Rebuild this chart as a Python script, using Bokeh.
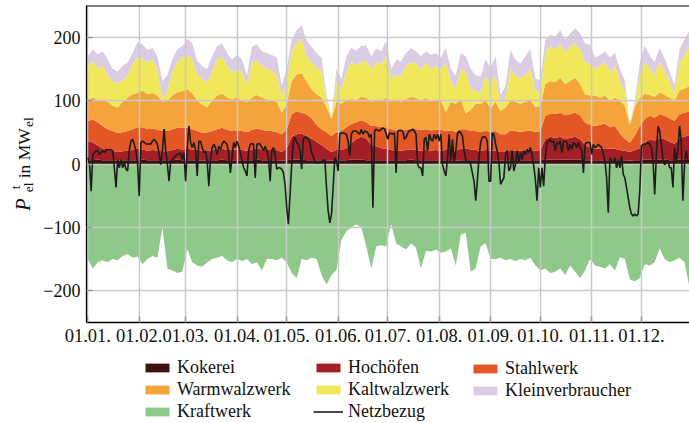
from math import pi

import numpy as np
import pandas as pd
from bokeh.core.properties import value
from bokeh.embed import file_html
from bokeh.layouts import column, row
from bokeh.models import (ColumnDataSource, FixedTicker, Legend, LegendItem,
                          Range1d, Span)
from bokeh.plotting import figure
from bokeh.resources import INLINE

# ---------------------------------------------------------------------------
# Electrical load per plant section (MW_el), sampled every third day
# ---------------------------------------------------------------------------
kokerei = [6, 6, 7, 6, 6, 6, 5, 6, 6, 6, 6, 7, 6, 6, 6, 6, 6, 6, 7, 6,
           6, 6, 6, 5, 6, 6, 6, 7, 6, 6, 6, 6, 6, 6, 7, 6, 6, 6, 6, 5,
           6, 7, 7, 7, 6, 6, 6, 6, 6, 5, 6, 6, 6, 7, 7, 7, 6, 6, 6, 6,
           6, 6, 6, 6, 6, 7, 6, 6, 6, 6, 6, 6, 6, 6, 5, 6, 6, 6, 6, 6,
           6, 6, 6, 5, 5, 6, 6, 6, 6, 6, 6, 6, 7, 7, 7, 7, 7, 7, 7, 7,
           6, 6, 6, 6, 6, 6, 6, 6, 6, 5, 6, 6, 7, 7, 7, 7, 7, 6, 6, 7,
           7, 7]
hochoefen = [30, 28, 22, 18, 16, 15, 14, 14, 15, 16, 18, 16, 15, 16, 15, 14, 14, 16, 17, 17,
             18, 17, 16, 16, 15, 16, 17, 17, 16, 16, 17, 16, 15, 17, 18, 17, 16, 16, 16, 14,
             19, 36, 40, 41, 38, 34, 29, 24, 18, 14, 16, 16, 19, 26, 32, 36, 34, 24, 22, 19,
             18, 16, 15, 15, 16, 16, 16, 15, 16, 15, 16, 15, 16, 16, 16, 18, 19, 17, 16, 15,
             16, 15, 15, 14, 14, 16, 15, 15, 15, 16, 15, 16, 32, 36, 34, 36, 32, 34, 36, 32,
             24, 20, 18, 18, 19, 18, 18, 16, 15, 14, 16, 19, 26, 32, 30, 34, 32, 29, 26, 34,
             36, 39]
stahlwerk = [32, 36, 37, 36, 33, 31, 30, 30, 31, 33, 34, 35, 34, 34, 33, 32, 32, 33, 33, 34,
             33, 32, 30, 28, 29, 30, 32, 33, 32, 30, 29, 30, 29, 31, 31, 31, 30, 30, 28, 28,
             30, 36, 36, 33, 34, 32, 27, 25, 26, 25, 28, 30, 33, 30, 27, 26, 26, 30, 32, 33,
             34, 33, 32, 31, 32, 33, 33, 33, 33, 32, 32, 33, 30, 31, 30, 31, 30, 29, 30, 29,
             31, 29, 31, 28, 28, 31, 31, 29, 31, 31, 29, 30, 37, 36, 38, 38, 38, 38, 38, 38,
             35, 36, 36, 38, 39, 34, 36, 26, 19, 15, 23, 35, 38, 37, 36, 38, 37, 37, 36, 38,
             38, 37]
warmwalzwerk = [32, 35, 35, 42, 43, 40, 40, 48, 53, 55, 54, 58, 55, 56, 54, 46, 48, 53, 56, 58,
                61, 57, 48, 45, 40, 48, 53, 54, 51, 50, 53, 48, 48, 51, 53, 51, 50, 48, 48, 34,
                40, 52, 58, 62, 52, 46, 48, 50, 40, 27, 48, 43, 42, 40, 35, 37, 38, 38, 42, 42,
                47, 45, 47, 46, 48, 50, 49, 46, 49, 47, 48, 46, 30, 45, 44, 47, 25, 33, 43, 45,
                47, 38, 46, 37, 42, 47, 46, 45, 46, 47, 40, 40, 50, 52, 50, 55, 49, 52, 55, 49,
                45, 46, 48, 43, 44, 42, 45, 52, 52, 27, 45, 45, 40, 33, 33, 34, 33, 33, 32, 37,
                38, 40]
kaltwalzwerk = [55, 57, 50, 53, 42, 38, 38, 34, 35, 48, 56, 50, 50, 53, 42, 5, 15, 37, 48, 53,
                54, 53, 42, 40, 38, 45, 57, 58, 50, 43, 45, 45, 27, 55, 54, 50, 48, 48, 42, 26,
                35, 45, 50, 53, 40, 42, 42, 43, 10, 2, 32, 23, 45, 58, 55, 55, 59, 52, 58, 58,
                65, 35, 40, 40, 53, 55, 54, 50, 56, 50, 53, 48, 78, 32, 24, 48, 65, 35, 20, 17,
                40, 37, 42, 10, 15, 50, 42, 40, 42, 50, 25, 20, 50, 55, 52, 53, 50, 55, 53, 55,
                50, 50, 42, 50, 52, 45, 50, 30, 23, 2, 5, 35, 50, 42, 35, 48, 37, 25, 12, 45,
                52, 63]
kleinverbraucher = [15, 19, 22, 23, 25, 20, 19, 23, 20, 17, 24, 23, 20, 18, 20, 28, 25, 20, 20, 18,
                    25, 25, 21, 20, 22, 25, 21, 21, 20, 20, 22, 20, 15, 25, 26, 23, 25, 24, 28, 17,
                    20, 20, 20, 23, 25, 25, 23, 20, 10, 1, 20, 17, 25, 22, 23, 25, 24, 20, 22, 20,
                    24, 15, 25, 24, 20, 22, 20, 20, 18, 22, 20, 20, 23, 20, 20, 25, 25, 30, 25, 26,
                    25, 27, 30, 15, 20, 30, 25, 23, 30, 31, 20, 20, 20, 18, 20, 22, 20, 20, 25, 25,
                    30, 30, 18, 17, 18, 23, 20, 20, 17, 1, 5, 20, 25, 20, 20, 22, 20, 15, 13, 20,
                    25, 25]
# own generation (negative = supply)
kraftwerk = [-150, -165, -155, -152, -155, -150, -152, -145, -142, -148,
             -146, -158, -150, -145, -148, -100, -165, -168, -172, -170,
             -134, -155, -160, -162, -155, -150, -148, -145, -152, -155,
             -150, -153, -150, -158, -155, -168, -150, -150, -152, -148,
             -155, -172, -180, -150, -152, -148, -150, -175, -190, -175,
             -167, -120, -106, -100, -95, -100, -130, -165, -130, -128,
             -130, -95, -125, -130, -135, -125, -132, -165, -137, -138,
             -135, -140, -138, -133, -160, -112, -108, -170, -165, -130,
             -125, -150, -150, -148, -152, -150, -153, -150, -152, -148,
             -160, -168, -165, -172, -170, -165, -175, -160, -170, -180,
             -168, -150, -160, -162, -165, -158, -168, -147, -150, -182,
             -185, -180, -158, -160, -155, -133, -150, -155, -152, -148,
             -155, -195]

# daily net grid purchase (MW_el)
netzbezug = [10, 2, -43, 15, 18, 21, 21, 15, 18, 21,
             18, 23, 22, 23, 22, 21, -6, -37, 7, -6,
             7, -6, 2, -8, -11, 21, 36, 39, 31, 21,
             2, -51, 34, 36, 34, 32, 31, 32, 31, 36,
             39, 36, 31, 15, -1, 21, 55, 21, -1, -27,
             5, 7, 10, 13, 15, 16, 18, 7, 18, -27,
             26, 60, 34, 26, 34, 21, -19, 36, 36, 26,
             18, 21, 5, -35, 7, 26, 31, 26, 15, 28,
             23, 31, 36, 34, 31, 15, -14, 10, 34, 26,
             36, 28, 18, 5, -6, -11, -19, 21, 31, 32,
             31, -22, 31, 32, 31, 26, 21, 28, 21, 10,
             -27, 21, 26, 15, -8, -6, -6, -8, -14, -32,
             -69, -95, -48, -1, 36, 42, 34, 31, 21, -8,
             39, 42, 42, 39, 34, 18, 13, 2, 2, 2,
             2, 4, 5, 7, -37, -74, -93, -79, -37, 10,
             5, -11, 47, 49, 49, 48, 47, 36, 13, 47,
             52, 52, 52, 49, 47, 55, 47, 52, 51, 49,
             42, 47, -69, 52, 55, 53, 52, 55, 57, 55,
             48, 39, 49, 48, 47, 49, -14, 52, 53, 53,
             52, 39, 42, 49, 52, 53, 55, 52, 47, -1,
             -6, -6, -19, 39, 42, 21, 47, 39, 36, 47,
             39, 47, 36, 47, -1, -11, -19, 10, 47, 5,
             39, 2, 21, 47, 52, 49, 44, 21, 7, 2,
             5, -1, -14, -27, -58, -27, 10, 34, 42, 43,
             42, 36, -27, -27, 49, 47, 31, 21, 2, -32,
             -27, -22, 15, 21, -11, -6, 21, -11, -1, 21,
             2, 18, 7, 21, 15, 23, 18, 26, 15, -3,
             -24, -58, -6, -37, -6, -35, 10, 34, 36, 39,
             34, 36, 21, 34, 31, 36, 18, 36, 36, 34,
             21, 31, 23, 34, 31, 26, 34, 26, 21, -14,
             31, 34, 34, 34, 15, 31, 26, 28, 31, 28,
             26, 15, 5, -22, -77, 10, 5, 2, 10, -6,
             7, -6, 13, -16, -22, -37, -53, -69, -79, -82,
             -79, -82, -79, -43, 28, 31, 31, 32, 34, 31,
             26, 5, -48, 15, 60, 52, 31, 7, -1, 2,
             5, -6, -6, -37, 26, 5, 21, 60, 36, -58,
             -1, 21, 5]

month_labels = ["01.01.", "01.02.", "01.03.", "01.04.", "01.05.", "01.06.",
                "01.07.", "01.08.", "01.09.", "01.10.", "01.11.", "01.12."]
y_ticks = [-200, -100, 0, 100, 200]
y_tick_labels = ["\u2212200", "\u2212100", "0", "100", "200"]

layers = ["kokerei", "hochoefen", "stahlwerk", "warmwalzwerk", "kaltwalzwerk", "kleinverbraucher"]
layer_names = ["Kokerei", "Hochöfen", "Stahlwerk", "Warmwalzwerk", "Kaltwalzwerk", "Kleinverbraucher"]
layer_colors = ["#3e130f", "#a31e25", "#e35626", "#f4a43a", "#f1e75b", "#dacde3"]
kraft_color = "#8ec98a"
net_color = "#1c1c1c"

for arr in (hochoefen, stahlwerk, warmwalzwerk, kaltwalzwerk, kleinverbraucher, kraftwerk):
    assert len(arr) == len(kokerei), len(arr)

# ---------------------------------------------------------------------------
days = np.arange(len(kokerei)) * 3          # every third day of the year
net_days = np.arange(len(netzbezug))        # daily values

src = ColumnDataSource(dict(day=days, kokerei=kokerei, hochoefen=hochoefen,
                            stahlwerk=stahlwerk, warmwalzwerk=warmwalzwerk,
                            kaltwalzwerk=kaltwalzwerk, kleinverbraucher=kleinverbraucher,
                            kraftwerk=kraftwerk))

months = pd.date_range("2019-01-01", periods=12, freq="MS")
month_days = [int((m - months[0]).days) for m in months]

FONT = "Liberation Serif"
TEXT = "#111111"
W, H = 689, 423
LABEL_W = 40          # strip holding the y axis title
LEGEND_H = 73         # strip holding the legend
CHART_H = H - LEGEND_H
BORDER_TOP, BORDER_BOTTOM = 5, 28

y_range = Range1d(-250, 250)

# ---------------------------------------------------------------------------
# main chart
# ---------------------------------------------------------------------------
p = figure(width=W - LABEL_W, height=CHART_H, output_backend="svg", toolbar_location=None,
           title=None, x_range=Range1d(-0.8, 363), y_range=y_range,
           min_border_left=82 - LABEL_W, min_border_right=0, min_border_top=BORDER_TOP,
           min_border_bottom=BORDER_BOTTOM)
p.outline_line_color = None
p.background_fill_color = "white"
p.border_fill_color = "white"

# stacked consumption above zero, generation below zero
stack_renderers = p.varea_stack(stackers=layers, x="day", source=src, color=layer_colors)
kraft_r = p.varea(x="day", y1=0, y2="kraftwerk", source=src, fill_color=kraft_color)
for r in stack_renderers + [kraft_r]:
    r.level = "image"   # keep the grid visible on top of the filled areas

p.line(net_days, netzbezug, line_color=net_color, line_width=1.6)

xticker = FixedTicker(ticks=month_days)
yticker = FixedTicker(ticks=y_ticks)

xa = p.xaxis[0]
xa.ticker = xticker
xa.major_label_overrides = dict(zip(month_days, month_labels))
ya = p.yaxis[0]
ya.ticker = yticker
ya.major_label_overrides = dict(zip(y_ticks, y_tick_labels))

for ax in (xa, ya):
    ax.axis_line_color = "black"
    ax.axis_line_width = 1.3
    ax.major_tick_in = 6
    ax.major_tick_out = 0
    ax.major_tick_line_color = "#9a9a9a"
    ax.major_tick_line_width = 1.5
    ax.minor_tick_line_color = None
    ax.major_label_text_font = FONT
    ax.major_label_text_color = TEXT
xa.major_label_text_font_size = "18.5px"
ya.major_label_text_font_size = "18px"
xa.major_label_standoff = 6
ya.major_label_standoff = 6

# top frame edge
p.add_layout(Span(location=250, dimension="width", line_color="black", line_width=2))

p.xgrid.ticker = xticker
p.ygrid.ticker = yticker
p.grid.grid_line_color = "#c9c9c9"
p.grid.grid_line_width = 1.5

# ---------------------------------------------------------------------------
# y axis title strip: P^t_el in MW_el, read bottom-to-top.
# It shares the chart's y range and borders, so pieces sit at MW positions.
# ---------------------------------------------------------------------------
t = figure(width=LABEL_W, height=CHART_H, output_backend="svg", toolbar_location=None,
           title=None, x_range=Range1d(0, LABEL_W), y_range=y_range,
           min_border_left=0, min_border_right=0, min_border_top=BORDER_TOP,
           min_border_bottom=BORDER_BOTTOM, x_axis_type=None, y_axis_type=None)
t.outline_line_color = None
t.background_fill_color = "white"
t.border_fill_color = "white"


def title_part(text, x, y, size, style="normal"):
    t.text(x=[x], y=[y], text=[text], angle=pi / 2, text_font=value(FONT),
           text_font_size=size, text_font_style=style, text_color=TEXT,
           text_align="center", text_baseline="middle")


title_part("P", 22.5, -64, "20px", "italic")
title_part("t", 14.5, -37, "13.5px")
title_part("el", 27.5, -37, "13.5px")
title_part("in MW", 23, 17, "17.5px")
title_part("el", 27.5, 66, "13.5px")

# ---------------------------------------------------------------------------
# legend strip, three columns
# ---------------------------------------------------------------------------
lg = figure(width=W, height=LEGEND_H, output_backend="svg", toolbar_location=None,
            title=None, x_range=Range1d(0, 1), y_range=Range1d(0, 1),
            min_border=0, x_axis_type=None, y_axis_type=None)
lg.outline_line_color = None
lg.background_fill_color = "white"
lg.border_fill_color = "white"

# legend keys: renderers carrying only the styles, placed outside the strip's view
swatch = {}
for name, color in zip(layer_names, layer_colors):
    swatch[name] = lg.varea(x=[-1, -1], y1=[-1, -1], y2=[-1, -1], fill_color=color)
swatch["Kraftwerk"] = lg.varea(x=[-1, -1], y1=[-1, -1], y2=[-1, -1], fill_color=kraft_color)
swatch["Netzbezug"] = lg.line(x=[-1, -1], y=[-1, -1], line_color=net_color, line_width=1.6)

legend_columns = [["Kokerei", "Warmwalzwerk", "Kraftwerk"],
                  ["Hochöfen", "Kaltwalzwerk", "Netzbezug"],
                  ["Stahlwerk", "Kleinverbraucher"]]
column_left = [142, 313, 470]
ROW = 21
for names, cx in zip(legend_columns, column_left):
    items = [LegendItem(label=n, renderers=[swatch[n]]) for n in names]
    leg = Legend(items=items, location=(cx, LEGEND_H - 9 - ROW * len(names)),
                 orientation="vertical", border_line_color=None,
                 background_fill_alpha=0, padding=0, margin=0, spacing=1,
                 glyph_width=30, glyph_height=11, label_standoff=5, label_height=20,
                 label_text_font=FONT, label_text_font_size="18px",
                 label_text_color=TEXT, label_text_baseline="middle")
    lg.add_layout(leg, "center")

layout = column(row(t, p, spacing=0), lg, spacing=0)

with open("out.html", "w", encoding="utf-8") as f:
    f.write(file_html(layout, INLINE))
